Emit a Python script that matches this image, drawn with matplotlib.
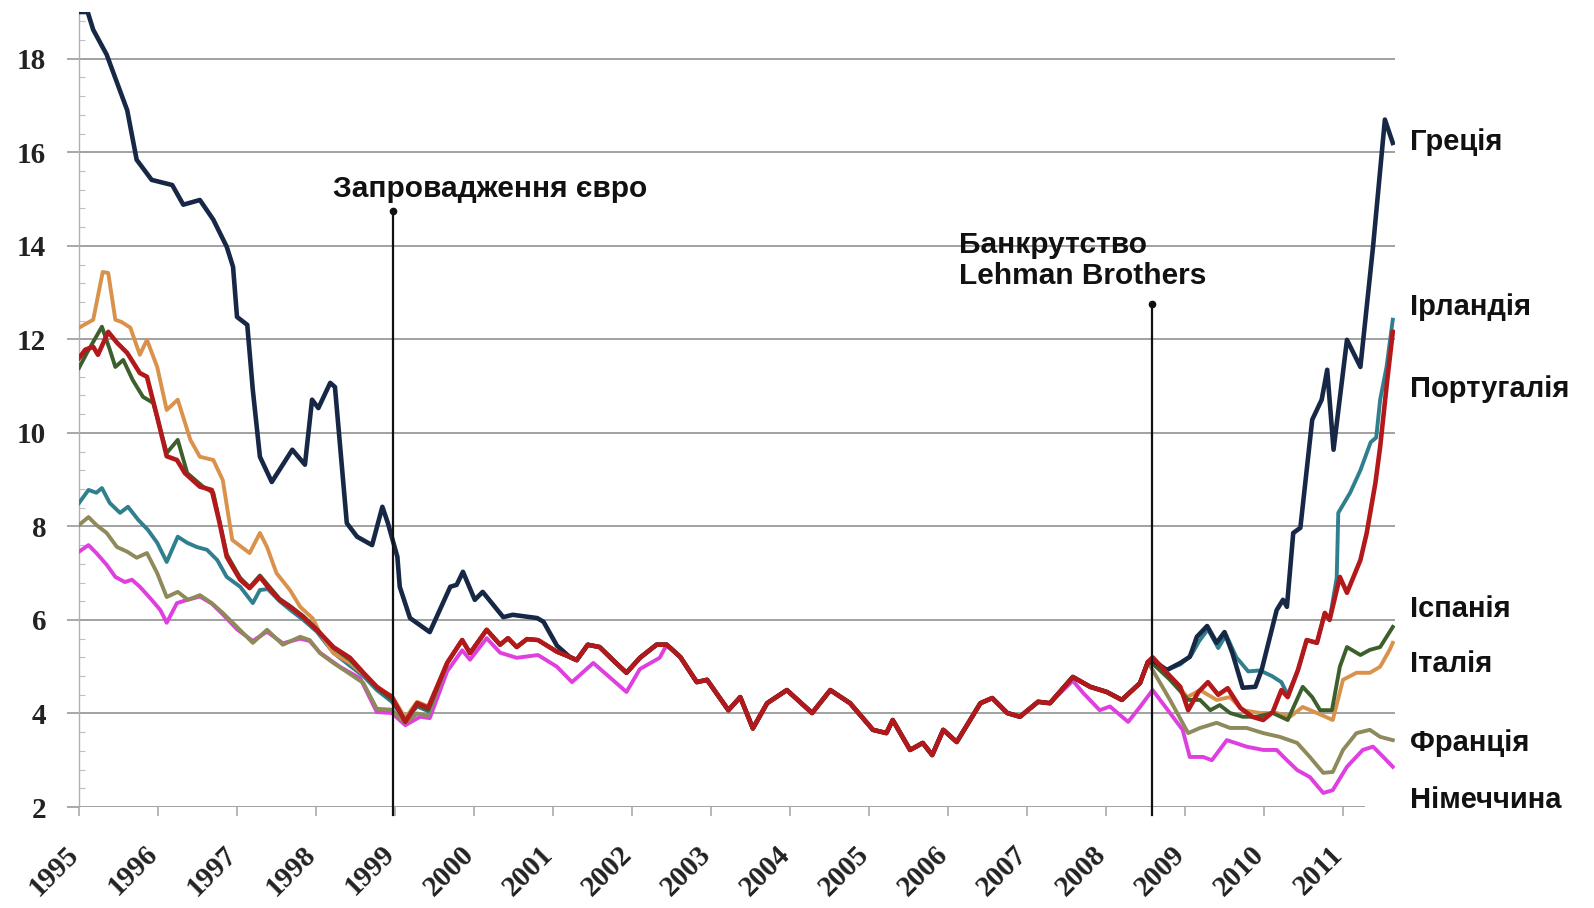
import matplotlib
matplotlib.use("Agg")
import matplotlib.pyplot as plt
from matplotlib.ticker import MultipleLocator

# --- data: 10-year government bond yields, % ---

# shared stretch where the curves sit on top of each other
CONV_A_T = [1999.66, 1999.85, 1999.95, 2000.16, 2000.33, 2000.43, 2000.54, 2000.67, 2000.81, 2001.05]
CONV_A_V = [5.08, 5.57, 5.29, 5.79, 5.47, 5.61, 5.42, 5.59, 5.57, 5.32]
CONV_B_T = [2001.21, 2001.30, 2001.44, 2001.59, 2001.76, 2001.93, 2002.10, 2002.31]
CONV_B_V = [5.21, 5.14, 5.47, 5.42, 5.14, 4.87, 5.19, 5.47]
CONV_C_T = [2002.44, 2002.61, 2002.82, 2002.95, 2003.22, 2003.37, 2003.53, 2003.71, 2003.96,
            2004.28, 2004.51, 2004.76, 2005.05, 2005.22, 2005.30, 2005.52, 2005.68, 2005.80,
            2005.94, 2006.11, 2006.41, 2006.56, 2006.75, 2006.91, 2007.14, 2007.29]
CONV_C_V = [5.47, 5.21, 4.67, 4.72, 4.07, 4.35, 3.68, 4.22, 4.50,
            4.01, 4.50, 4.22, 3.65, 3.58, 3.86, 3.22, 3.37, 3.11,
            3.65, 3.39, 4.22, 4.33, 4.01, 3.93, 4.25, 4.22]
CONV_D_T = [2007.58, 2007.80, 2008.01, 2008.20, 2008.43, 2008.53]
CONV_D_V = [4.78, 4.57, 4.46, 4.29, 4.65, 5.10]

# Greece
GR_EARLY_T = [1995.0, 1995.11, 1995.18, 1995.35, 1995.61, 1995.73, 1995.92, 1996.18, 1996.32,
              1996.53, 1996.70, 1996.87, 1996.95, 1997.0, 1997.13, 1997.20, 1997.29, 1997.44,
              1997.70, 1997.86, 1997.95, 1998.03, 1998.18, 1998.24, 1998.39, 1998.52, 1998.71,
              1998.84, 1998.91, 1999.03, 1999.06, 1999.19, 1999.44, 1999.70, 1999.78, 1999.86,
              2000.01, 2000.11, 2000.37, 2000.49, 2000.80, 2000.88, 2001.05]
GR_EARLY_V = [19.0, 19.0, 18.62, 18.09, 16.9, 15.84, 15.41, 15.30, 14.88,
              14.98, 14.56, 13.98, 13.55, 12.48, 12.31, 10.92, 9.49, 8.95,
              9.64, 9.32, 10.71, 10.53, 11.07, 10.98, 8.07, 7.78, 7.60,
              8.42, 8.07, 7.35, 6.71, 6.04, 5.74, 6.71, 6.75, 7.03,
              6.43, 6.60, 6.06, 6.11, 6.04, 5.96, 5.45]
GR_LATE_T = [2008.59, 2008.77, 2008.94, 2009.06, 2009.15, 2009.28, 2009.40, 2009.50, 2009.60,
             2009.73, 2009.89, 2009.97, 2010.16, 2010.24, 2010.29, 2010.37, 2010.46, 2010.61,
             2010.73, 2010.80, 2010.88, 2011.05, 2011.22, 2011.38, 2011.53, 2011.63]
GR_LATE_V = [5.14, 4.93, 5.08, 5.21, 5.64, 5.87, 5.51, 5.74, 5.29,
             4.55, 4.57, 4.93, 6.21, 6.43, 6.28, 7.86, 7.97, 10.28,
             10.71, 11.35, 9.64, 11.99, 11.41, 13.98, 16.70, 16.20]

# Ireland
IE_EARLY_T = [1995.0, 1995.12, 1995.22, 1995.29, 1995.39, 1995.52, 1995.62, 1995.75, 1995.87,
              1995.99, 1996.11, 1996.25, 1996.37, 1996.49, 1996.62, 1996.75, 1996.87, 1997.04,
              1997.20, 1997.29, 1997.39, 1997.54, 1997.67, 1997.84, 1998.01, 1998.22, 1998.43,
              1998.60, 1998.77, 1998.96, 1999.13, 1999.28, 1999.42]
IE_EARLY_V = [8.50, 8.78, 8.72, 8.82, 8.50, 8.29, 8.42, 8.14, 7.93,
              7.65, 7.24, 7.78, 7.65, 7.56, 7.50, 7.28, 6.92, 6.71,
              6.36, 6.64, 6.66, 6.40, 6.22, 6.00, 5.75, 5.30, 5.02,
              4.80, 4.50, 4.25, 3.85, 4.15, 4.05]
IE_LATE_T = [2008.59, 2008.77, 2008.94, 2009.08, 2009.18, 2009.29, 2009.42, 2009.52, 2009.65,
             2009.80, 2009.95, 2010.10, 2010.22, 2010.30, 2010.43, 2010.54, 2010.67, 2010.77,
             2010.83, 2010.92, 2010.94, 2011.09, 2011.22, 2011.35, 2011.42, 2011.47, 2011.55,
             2011.63]
IE_LATE_V = [5.05, 4.93, 5.05, 5.25, 5.55, 5.80, 5.40, 5.68, 5.20,
             4.90, 4.92, 4.80, 4.67, 4.40, 4.93, 5.57, 5.51, 6.15,
             6.00, 6.90, 8.29, 8.72, 9.20, 9.80, 9.90, 10.71, 11.40,
             12.42]

# Portugal
PT_EARLY_T = [1995.0, 1995.08, 1995.18, 1995.24, 1995.37, 1995.48, 1995.61, 1995.77, 1995.86,
              1995.99, 1996.11, 1996.24, 1996.34, 1996.53, 1996.68, 1996.78, 1996.87, 1997.04,
              1997.16, 1997.29, 1997.39, 1997.54, 1997.67, 1997.84, 1998.01, 1998.22, 1998.43,
              1998.60, 1998.77, 1998.96, 1999.13, 1999.28, 1999.42]
PT_EARLY_V = [11.60, 11.78, 11.84, 11.67, 12.16, 11.93, 11.71, 11.28, 11.20,
              10.34, 9.50, 9.42, 9.14, 8.85, 8.78, 8.07, 7.35, 6.86,
              6.68, 6.92, 6.71, 6.43, 6.28, 6.06, 5.79, 5.42, 5.19,
              4.87, 4.57, 4.35, 3.82, 4.22, 4.12]
PT_LATE_T = [2008.59, 2008.77, 2008.94, 2009.04, 2009.17, 2009.29, 2009.42, 2009.54, 2009.70,
             2009.85, 2009.99, 2010.11, 2010.22, 2010.30, 2010.43, 2010.54, 2010.67, 2010.77,
             2010.83, 2010.96, 2011.05, 2011.22, 2011.30, 2011.41, 2011.47, 2011.56, 2011.63]
PT_LATE_V = [5.20, 4.87, 4.57, 4.07, 4.46, 4.67, 4.40, 4.54, 4.12,
             3.93, 3.86, 4.03, 4.50, 4.35, 4.93, 5.57, 5.51, 6.15,
             6.00, 6.92, 6.58, 7.28, 7.86, 8.93, 9.70, 11.13, 12.16]

# Spain
ES_EARLY_T = [1995.0, 1995.10, 1995.29, 1995.39, 1995.46, 1995.56, 1995.68, 1995.81, 1995.94,
              1996.11, 1996.25, 1996.37, 1996.57, 1996.70, 1996.87, 1997.04, 1997.16, 1997.29,
              1997.39, 1997.54, 1997.67, 1997.84, 1998.01, 1998.22, 1998.43, 1998.60, 1998.77,
              1998.96, 1999.13, 1999.28, 1999.42]
ES_EARLY_V = [11.39, 11.71, 12.27, 11.78, 11.41, 11.56, 11.13, 10.77, 10.64,
              9.57, 9.85, 9.14, 8.85, 8.72, 7.40, 6.90, 6.70, 6.95,
              6.75, 6.45, 6.30, 6.08, 5.80, 5.40, 5.15, 4.85, 4.55,
              4.30, 3.85, 4.18, 4.08]
ES_LATE_T = [2008.59, 2008.81, 2009.04, 2009.19, 2009.32, 2009.44, 2009.57, 2009.73, 2009.91,
             2010.11, 2010.30, 2010.49, 2010.61, 2010.71, 2010.86, 2010.96, 2011.05, 2011.22,
             2011.34, 2011.47, 2011.63]
ES_LATE_V = [5.07, 4.72, 4.29, 4.29, 4.07, 4.18, 4.01, 3.93, 3.93,
             4.01, 3.86, 4.57, 4.35, 4.07, 4.07, 5.00, 5.42, 5.25,
             5.36, 5.42, 5.85]

# Italy
IT_EARLY_T = [1995.0, 1995.18, 1995.30, 1995.37, 1995.46, 1995.54, 1995.65, 1995.77, 1995.86,
              1995.99, 1996.11, 1996.25, 1996.41, 1996.53, 1996.70, 1996.82, 1996.94, 1997.16,
              1997.29, 1997.38, 1997.50, 1997.67, 1997.80, 1997.96, 1998.05, 1998.22, 1998.43,
              1998.64, 1998.81, 1998.96, 1999.13, 1999.28, 1999.42]
IT_EARLY_V = [12.25, 12.42, 13.44, 13.42, 12.42, 12.37, 12.25, 11.67, 11.99,
              11.41, 10.49, 10.71, 9.85, 9.49, 9.42, 8.99, 7.71, 7.43,
              7.86, 7.56, 7.00, 6.64, 6.28, 6.03, 5.72, 5.29, 5.08,
              4.78, 4.50, 4.38, 3.90, 4.25, 4.15]
IT_LATE_T = [2008.59, 2008.81, 2009.03, 2009.19, 2009.40, 2009.57, 2009.73, 2009.95, 2010.16,
             2010.33, 2010.49, 2010.67, 2010.87, 2011.00, 2011.17, 2011.34, 2011.47, 2011.59,
             2011.63]
IT_LATE_V = [5.07, 4.78, 4.35, 4.50, 4.29, 4.35, 4.07, 4.01, 4.01,
             3.93, 4.14, 4.01, 3.86, 4.72, 4.87, 4.87, 5.00, 5.36,
             5.51]

# France
FR_EARLY_T = [1995.0, 1995.12, 1995.22, 1995.35, 1995.48, 1995.61, 1995.73, 1995.86, 1995.99,
              1996.11, 1996.25, 1996.38, 1996.53, 1996.68, 1996.82, 1997.0, 1997.20, 1997.38,
              1997.58, 1997.80, 1997.92, 1998.05, 1998.22, 1998.39, 1998.60, 1998.77, 1998.96,
              1999.13, 1999.28, 1999.42]
FR_EARLY_V = [8.03, 8.20, 8.03, 7.86, 7.56, 7.46, 7.33, 7.43, 7.00,
              6.49, 6.60, 6.43, 6.53, 6.36, 6.15, 5.85, 5.51, 5.79,
              5.47, 5.64, 5.57, 5.29, 5.08, 4.89, 4.65, 4.10, 4.08,
              3.80, 4.00, 3.95]
FR_LATE_T = [2008.59, 2008.81, 2009.04, 2009.19, 2009.40, 2009.57, 2009.78, 2009.99, 2010.20,
             2010.42, 2010.58, 2010.75, 2010.87, 2011.00, 2011.17, 2011.34, 2011.47, 2011.63]
FR_LATE_V = [4.93, 4.29, 3.58, 3.69, 3.80, 3.69, 3.69, 3.58, 3.50,
             3.37, 3.07, 2.73, 2.75, 3.22, 3.58, 3.65, 3.50, 3.43]

# Germany
DE_EARLY_T = [1995.0, 1995.12, 1995.22, 1995.35, 1995.46, 1995.58, 1995.67, 1995.77, 1995.92,
              1996.03, 1996.11, 1996.24, 1996.37, 1996.53, 1996.68, 1996.82, 1997.0, 1997.20,
              1997.38, 1997.58, 1997.80, 1997.92, 1998.05, 1998.30, 1998.56, 1998.77, 1998.96,
              1999.13, 1999.32, 1999.44, 1999.66, 1999.85, 1999.95, 2000.16, 2000.33, 2000.54,
              2000.81, 2001.05, 2001.24, 2001.51, 2001.93, 2002.10, 2002.35]
DE_EARLY_V = [7.46, 7.60, 7.43, 7.18, 6.92, 6.81, 6.86, 6.71, 6.43,
              6.21, 5.94, 6.36, 6.43, 6.50, 6.35, 6.12, 5.80, 5.55,
              5.75, 5.50, 5.60, 5.55, 5.30, 5.00, 4.75, 4.03, 4.01,
              3.75, 3.93, 3.90, 4.90, 5.35, 5.15, 5.61, 5.30, 5.19,
              5.25, 5.00, 4.67, 5.08, 4.46, 4.95, 5.19]
DE_LATE_T = [2007.58, 2007.71, 2007.92, 2008.05, 2008.28, 2008.43, 2008.59, 2008.81, 2008.97,
             2009.06, 2009.23, 2009.34, 2009.53, 2009.78, 2009.99, 2010.16, 2010.29, 2010.42,
             2010.58, 2010.75, 2010.87, 2011.05, 2011.25, 2011.38, 2011.51, 2011.63]
DE_LATE_V = [4.70, 4.44, 4.07, 4.15, 3.82, 4.14, 4.50, 4.01, 3.65,
             3.07, 3.07, 3.00, 3.43, 3.29, 3.22, 3.22, 3.00, 2.79,
             2.64, 2.30, 2.36, 2.86, 3.22, 3.29, 3.07, 2.86]

EVENTS = [(1998.97, 14.75), (2008.58, 12.76)]

YEARS = list(range(1995, 2012))
YTICKS = [2, 4, 6, 8, 10, 12, 14, 16, 18]

# --- series assembly ---
conv_all_t = CONV_A_T + CONV_B_T + CONV_C_T + CONV_D_T
conv_all_v = CONV_A_V + CONV_B_V + CONV_C_V + CONV_D_V

series = [
    # name, t, v, colour, width, label y (baseline)
    ("Німеччина", DE_EARLY_T + CONV_C_T + DE_LATE_T, DE_EARLY_V + CONV_C_V + DE_LATE_V,
     "#de3fde", 2.8, 1.98),
    ("Франція", FR_EARLY_T + conv_all_t + FR_LATE_T, FR_EARLY_V + conv_all_v + FR_LATE_V,
     "#8f8a5c", 2.8, 3.20),
    ("Ірландія", IE_EARLY_T + conv_all_t + IE_LATE_T, IE_EARLY_V + conv_all_v + IE_LATE_V,
     "#2f7f8e", 2.8, 12.52),
    ("Італія", IT_EARLY_T + conv_all_t + IT_LATE_T, IT_EARLY_V + conv_all_v + IT_LATE_V,
     "#d9924c", 2.8, 4.89),
    ("Іспанія", ES_EARLY_T + conv_all_t + ES_LATE_T, ES_EARLY_V + conv_all_v + ES_LATE_V,
     "#3d5f2c", 2.8, 6.06),
    ("Греція", GR_EARLY_T + CONV_B_T + CONV_C_T + CONV_D_T + GR_LATE_T,
     GR_EARLY_V + CONV_B_V + CONV_C_V + CONV_D_V + GR_LATE_V, "#172846", 3.3, 16.05),
    ("Португалія", PT_EARLY_T + conv_all_t + PT_LATE_T, PT_EARLY_V + conv_all_v + PT_LATE_V,
     "#b3191b", 3.3, 10.77),
]

# --- figure ---
fig = plt.figure(figsize=(15.94, 9.08), dpi=100)
ax = fig.add_axes([79 / 1594, 101 / 908, 1316 / 1594, 795 / 908])
ax.set_xlim(1995, 2011.658)
ax.set_ylim(2, 19)

GRID = "#9a9a9a"
for y in YTICKS[1:]:
    ax.axhline(y, color=GRID, lw=1.3, zorder=1)
ax.plot([1995, 2011.28], [2, 2], color=GRID, lw=1.3, zorder=1, solid_capstyle="butt")

for sp in ["top", "right", "bottom"]:
    ax.spines[sp].set_visible(False)
ax.spines["left"].set_color("#b0b0b0")
ax.spines["left"].set_linewidth(1.0)

ax.set_yticks(YTICKS)
ax.yaxis.set_minor_locator(MultipleLocator(0.4))
ax.tick_params(axis="y", which="major", direction="out", length=8.6, width=1.2,
               color=GRID, pad=15)
ax.tick_params(axis="y", which="minor", direction="in", length=4, width=0.8,
               color="#c0c0c0")
for lab in ax.get_yticklabels():
    lab.set_fontfamily("Liberation Serif")
    lab.set_fontsize(21)
    lab.set_fontweight("bold")
    lab.set_color("#222222")

ax.set_xticks(YEARS)
ax.set_xticklabels([])
ax.tick_params(axis="x", direction="out", length=6.5, width=1.2, color="#aaaaaa")
ax.spines["left"].set_bounds(2, 19)

for yr in YEARS:
    ax.annotate(str(yr), xy=(yr, 2), xytext=(-3, -31), textcoords="offset points",
                rotation=45, rotation_mode="anchor", ha="right", va="center",
                fontfamily="Liberation Serif", fontsize=21, fontweight="bold",
                color="#222222", annotation_clip=False)

for i, (name, t, v, col, lw, ly) in enumerate(series):
    ax.plot(t, v, color=col, lw=lw, zorder=3 + i, solid_joinstyle="round")
    ax.text(2011.85, ly, name, fontfamily="Liberation Sans", fontsize=21,
            fontweight="bold", color="#111111", ha="left", va="baseline", clip_on=False)

# event markers
for x, top in EVENTS:
    ax.plot([x, x], [1.82, top], color="#111111", lw=1.6, zorder=12, clip_on=False)
    ax.plot([x], [top], marker="o", ms=4.5, color="#111111", zorder=12)

ax.text(1998.22, 15.05, "Запровадження євро", fontfamily="Liberation Sans", fontsize=21.5,
        fontweight="bold", color="#111111", ha="left", va="baseline")
ax.text(2006.14, 13.85, "Банкрутство", fontfamily="Liberation Sans", fontsize=21.5,
        fontweight="bold", color="#111111", ha="left", va="baseline")
ax.text(2006.14, 13.19, "Lehman Brothers", fontfamily="Liberation Sans", fontsize=21.5,
        fontweight="bold", color="#111111", ha="left", va="baseline")

fig.savefig("out.png", dpi=100)
